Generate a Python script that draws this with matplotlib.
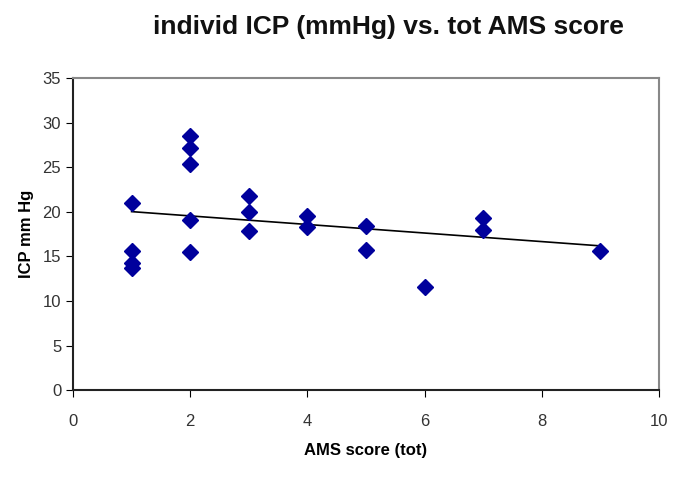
import numpy as np
import matplotlib
matplotlib.use("Agg")
import matplotlib.pyplot as plt

plt.rcParams['font.family'] = ['Liberation Sans', 'DejaVu Sans']

# AMS score (tot) and individual ICP (mmHg)
ams = [1, 1, 1, 1, 2, 2, 2, 2, 2, 3, 3, 3, 4, 4, 5, 5, 6, 7, 7, 9]
icp = [21.0, 15.6, 14.3, 13.7, 28.5, 27.2, 25.4, 19.1, 15.5,
       21.8, 20.0, 17.8, 19.5, 18.3, 18.4, 15.7, 11.6, 19.3, 18.0, 15.6]

fig = plt.figure(figsize=(6.85, 4.87), dpi=100)
ax = fig.add_axes([0.1066, 0.199, 0.8554, 0.6408])

ax.plot(ams, icp, linestyle='none', marker='D', markersize=8.5,
        color='#00009c', zorder=3)

# linear trend line
k, b = np.polyfit(ams, icp, 1)
xs = np.array([min(ams), max(ams)])
ax.plot(xs, k * xs + b, color='black', linewidth=1.2, zorder=2)

ax.set_xlim(0, 10)
ax.set_ylim(0, 35)
ax.set_xticks(range(0, 11, 2))
ax.set_yticks(range(0, 36, 5))
ax.tick_params(labelsize=12, labelcolor='#333333', direction='out', length=5)
ax.tick_params(axis='x', pad=12)

for s in ['top', 'right']:
    ax.spines[s].set_color('#888888')
    ax.spines[s].set_linewidth(1.5)
for s in ['left', 'bottom']:
    ax.spines[s].set_color('#222222')
    ax.spines[s].set_linewidth(1.5)

ax.set_xlabel('AMS score (tot)', fontsize=12, fontweight='bold', labelpad=10)
ax.set_ylabel('ICP mm Hg', fontsize=12, fontweight='bold', labelpad=6)
fig.text(0.567, 0.945, 'individ ICP (mmHg) vs. tot AMS score', fontsize=19,
         fontweight='bold', ha='center', va='center', color='#111111')

fig.savefig('out.png', dpi=100)
